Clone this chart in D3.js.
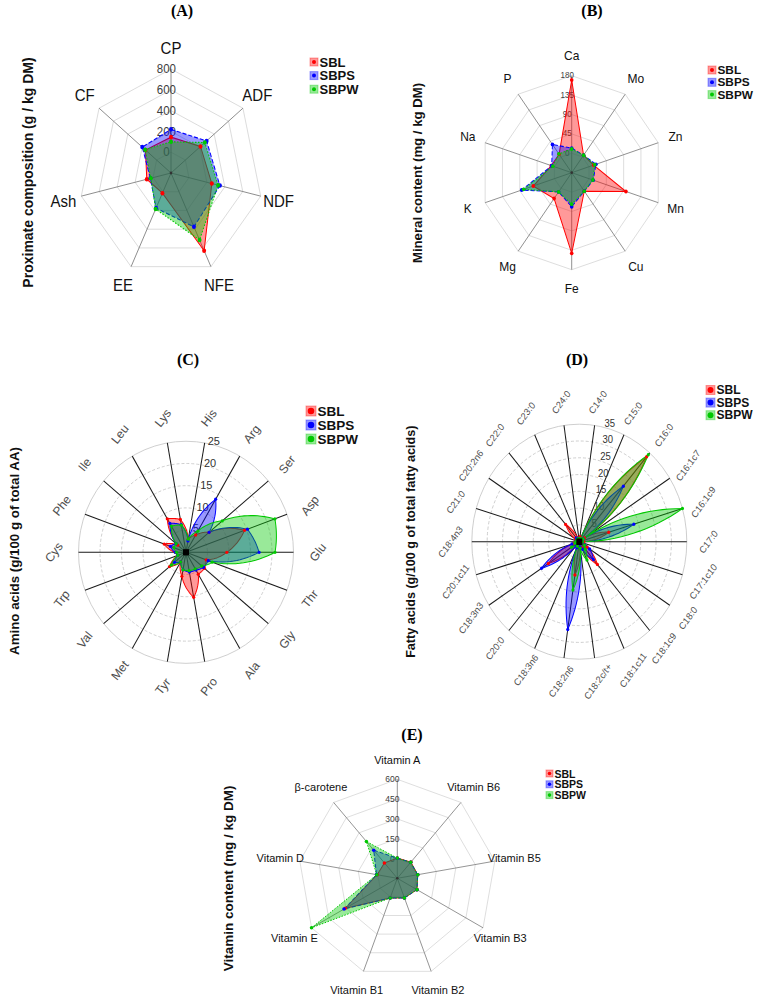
<!DOCTYPE html>
<html><head><meta charset="utf-8">
<script src="https://cdn.jsdelivr.net/npm/d3@7"></script>
<style>body{margin:0;background:#fff}svg{display:block;font-family:"Liberation Sans",Arial,sans-serif}</style>
</head><body><svg id="c" width="767" height="997"></svg>
<script>
// ---------------- data ----------------
const seriesNames = ["SBL","SBPS","SBPW"];

const proxCats  = ["CP","ADF","NDF","NFE","EE","Ash","CF"];
const proxSBL   = [145,210,255,630,15,70,155];
const proxSBPS  = [220,295,345,375,175,30,200];
const proxSBPW  = [100,270,325,515,185,25,160];
const proxTicks = [0,200,400,600,800];

const minCats  = ["Ca","Mo","Zn","Mn","Cu","Fe","Mg","K","Na","P"];
const minSBL   = [170,5,12,96,8,142,29,55,8,8];
const minSBPS  = [12,5,18,11,8,34,10,85,7,36];
const minSBPW  = [10,5,15,10,8,28,10,80,4,9];
const minTicks = [0,45,90,135,180];

const aaCats  = ["His","Arg","Ser","Asp","Glu","Thr","Gly","Ala","Pro","Tyr","Met","Val","Trp","Cys","Phe","Ile","Leu","Lys"];
const aaSBL   = [3,4.5,7,14.5,9.5,5,5.6,5.7,10.3,5.5,2.5,5,2,2.5,5.4,2.5,8.7,7.5];
const aaSBPS  = [2.6,13.8,7,15.2,17,5.5,5.3,4.6,4.5,4,2.5,3.5,2,2.5,3.9,3,7.5,6.3];
const aaSBPW  = [3,5.5,11,22,20.7,6.5,4.8,4.3,4.2,4,2.5,4.5,2,2.2,3,3,6.8,6.2];
const aaTicks = [5,10,15,20,25];

const faCats  = ["C14:0","C15:0","C16:0","C16:1c7","C16:1c9","C17:0","C17:1c10","C18:0","C18:1c9","C18:1c11","C18:2c/t+","C18:2n6","C18:3n6","C20:0","C18:3n3","C20:1c11","C18:4n3","C21:0","C20:2n6","C22:0","C23:0","C24:0"];
const faSBL   = [1.5,1,33.5,2,10,1.5,1,3,9,2,1.5,10,1.5,1,12,2,1,1,1.5,6.8,1,1];
const faSBPS  = [1,0.8,21.9,1.5,18.5,1,1,4,7,2.5,1.5,26.4,2,1.5,14.6,2.5,1,1,1,1.5,0.8,0.8];
const faSBPW  = [1,1,34.3,1.5,35,1,0.8,2,3,6,2,14.5,1.5,1,3,1.5,1,0.5,0.8,1,0.8,0.8];
const faTicks = [5,10,15,20,25,30,35];

const vitCats  = ["Vitamin A","Vitamin B6","Vitamin B5","Vitamin B3","Vitamin B2","Vitamin B1","Vitamin E","Vitamin D","β-carotene"];
const vitSBL   = [3,10,7,22,8,9,305,5,2];
const vitSBPS  = [2,8,7,22,8,9,316,10,128];
const vitSBPW  = [3,8,7,22,8,9,600,8,214];
const vitTicks = [0,150,300,450,600];

// ---------------- style ----------------
const colors = ["#ff0000","#0000ff","#00c800"];
const fills  = ["rgba(255,0,0,0.4)","rgba(0,0,255,0.4)","rgba(0,200,0,0.4)"];
const dashes = [null,"4,2","1.5,1.5"];

const svg = d3.select("#c");

function fmsbRadar(o){
  const g = svg.append("g").attr("transform",`translate(${o.cx},${o.cy}) scale(1,${o.ky})`);
  const n = o.cats.length, idx = d3.range(n);
  const ang = d3.scaleLinear().domain([0,n]).range([0,2*Math.PI]);
  const rad = d3.scaleLinear().domain(d3.extent(o.ticks)).range([o.R*0.2,o.R]);
  const xy = (i,r)=>[r*Math.sin(ang(i)), -r*Math.cos(ang(i))];
  const line = d3.line().curve(d3.curveLinearClosed);
  g.selectAll(null).data(o.ticks).join("path")
    .attr("d",t=>line(idx.map(i=>xy(i,rad(t))))).attr("fill","none")
    .attr("stroke","#d6d6d6").attr("stroke-width",0.8);
  g.selectAll(null).data(idx).join("line")
    .attr("x1",0).attr("y1",0).attr("x2",i=>xy(i,o.R)[0]).attr("y2",i=>xy(i,o.R)[1])
    .attr("stroke","#7a7a7a").attr("stroke-width",0.8);
  g.selectAll(null).data(o.ticks).join("text")
    .attr("x",-0.05*o.R).attr("y",t=>-rad(t)).attr("text-anchor","middle")
    .attr("dominant-baseline","central").attr("font-size",o.tickSize).attr("fill","#404040").text(t=>t);
  o.series.forEach((vals,k)=>{
    g.append("path").attr("d",line(idx.map(i=>xy(i,rad(vals[i])))))
      .attr("fill",fills[k]).attr("stroke",colors[k]).attr("stroke-width",1)
      .attr("stroke-dasharray",dashes[k]);
  });
  o.series.forEach((vals,k)=>{
    g.selectAll(null).data(idx).join("circle")
      .attr("cx",i=>xy(i,rad(vals[i]))[0]).attr("cy",i=>xy(i,rad(vals[i]))[1])
      .attr("r",o.pr).attr("fill",colors[k]);
  });
  g.append("circle").attr("r",1.3).attr("fill","#333");
  g.selectAll(null).data(idx).join("text")
    .attr("x",i=>xy(i,o.R*1.2)[0]).attr("y",i=>xy(i,o.R*1.2)[1])
    .attr("text-anchor","middle").attr("dominant-baseline","central")
    .attr("font-size",o.labSize).attr("fill","#111").text(i=>o.cats[i]);
}

function polarChart(o){
  const g = svg.append("g").attr("transform",`translate(${o.cx},${o.cy}) scale(1,${o.ky})`);
  const n = o.cats.length, step = 2*Math.PI/n, idx = d3.range(n);
  const ang = i=>step*(i+0.5);
  const r = d3.scaleLinear().domain([0,o.max]).range([0,o.R]);
  g.selectAll(null).data(o.ticks).join("circle").attr("r",t=>r(t)).attr("fill","none")
    .attr("stroke","#c4c4c4").attr("stroke-width",0.8)
    .attr("stroke-dasharray",(t,i)=>i===o.ticks.length-1?null:"3,2");
  g.selectAll(null).data(idx).join("line")
    .attr("x1",0).attr("y1",0)
    .attr("x2",i=>o.R*Math.sin(ang(i))).attr("y2",i=>-o.R*Math.cos(ang(i)))
    .attr("stroke","#1a1a1a").attr("stroke-width",1);
  g.selectAll(null).data(o.ticks).join("text")
    .attr("x",t=>r(t)*Math.sin(ang(0))+o.tickDx).attr("y",t=>-r(t)*Math.cos(ang(0))-2)
    .attr("dominant-baseline","central").attr("font-size",o.tickSize).attr("fill","#333").text(t=>t);
  const lr = d3.lineRadial().angle(d=>d[0]).radius(d=>d[1]).curve(d3.curveLinearClosed);
  const dens = vals=>{
    const pts=[];
    for(let i=0;i<n;i++){
      const a0=ang(i), r0=r(vals[i]), r1=r(vals[(i+1)%n]);
      for(let s=0;s<16;s++){const t=s/16; pts.push([a0+step*t, r0+(r1-r0)*t]);}
    }
    return pts;
  };
  o.series.forEach((vals,k)=>{
    g.append("path").attr("d",lr(dens(vals))).attr("fill",fills[k])
      .attr("stroke",colors[k]).attr("stroke-width",1);
  });
  o.series.forEach((vals,k)=>{
    g.selectAll(null).data(idx).join("circle")
      .attr("cx",i=>r(vals[i])*Math.sin(ang(i))).attr("cy",i=>-r(vals[i])*Math.cos(ang(i)))
      .attr("r",1.6).attr("fill",colors[k]);
  });
  g.append("rect").attr("x",-3).attr("y",-3).attr("width",6).attr("height",6).attr("fill","#000");
  g.selectAll(null).data(idx).join("text")
    .attr("transform",i=>`translate(${o.labR*Math.sin(ang(i))},${-o.labR*Math.cos(ang(i))}) rotate(-52)`)
    .attr("text-anchor","middle").attr("dominant-baseline","central")
    .attr("font-size",o.labSize).attr("fill","#4d4d4d").text(i=>o.cats[i]);
}

function legend(o){
  seriesNames.forEach((nm,k)=>{
    const y = o.y + k*o.dy;
    svg.append("rect").attr("x",o.x).attr("y",y-o.box/2).attr("width",o.box).attr("height",o.box)
      .attr("fill",fills[k]).attr("stroke",colors[k]).attr("stroke-opacity",0.35);
    svg.append("circle").attr("cx",o.x+o.box/2).attr("cy",y).attr("r",o.dot).attr("fill",colors[k]);
    svg.append("text").attr("x",o.x+o.box+1.5).attr("y",y).attr("dominant-baseline","central")
      .attr("font-weight","bold").attr("font-size",o.fs).attr("fill","#111").text(nm);
  });
}
function title(t,x,y){
  svg.append("text").attr("x",x).attr("y",y).attr("text-anchor","middle").attr("dominant-baseline","central")
    .attr("font-family","'Liberation Serif','Times New Roman',serif").attr("font-weight","bold")
    .attr("font-size",16).text(t);
}
function ylab(t,x,y,fs){
  svg.append("text").attr("transform",`translate(${x},${y}) rotate(-90)`).attr("text-anchor","middle")
    .attr("dominant-baseline","central").attr("font-weight","bold").attr("font-size",fs).attr("fill","#111").text(t);
}

// ---------------- panels ----------------
title("(A)",182,10); title("(B)",592,10); title("(C)",188,359); title("(D)",577,359); title("(E)",412,734);
ylab("Proximate composition (g / kg DM)",27.5,172.5,14);
ylab("Mineral content (mg / kg DM)",417.5,173,13.2);
ylab("Amino acids (g/100 g of total AA)",14.5,551,13.3);
ylab("Fatty acids (g/100 g of total fatty acids)",411,541.7,12.6);
ylab("Vitamin content (mg / kg DM)",228.5,878.4,13.5);

fmsbRadar({cx:171,cy:173,R:92,ky:1.13,cats:proxCats,ticks:proxTicks,series:[proxSBL,proxSBPS,proxSBPW],tickSize:11.5,labSize:15,pr:2});
fmsbRadar({cx:571.7,cy:172.7,R:91,ky:1.066,cats:minCats,ticks:minTicks,series:[minSBL,minSBPS,minSBPW],tickSize:8,labSize:12,pr:1.8});
fmsbRadar({cx:397.3,cy:878.3,R:99,ky:1,cats:vitCats,ticks:vitTicks,series:[vitSBL,vitSBPS,vitSBPW],tickSize:8.5,labSize:11,pr:1.8});
polarChart({cx:186,cy:552.3,R:107.5,ky:1.033,max:25,cats:aaCats,ticks:aaTicks,series:[aaSBL,aaSBPS,aaSBPW],labR:132,labSize:12,tickSize:11,tickDx:3});
polarChart({cx:579.3,cy:541.7,R:107.5,ky:1.093,max:35,cats:faCats,ticks:faTicks,series:[faSBL,faSBPS,faSBPW],labR:129,labSize:9,tickSize:9.5,tickDx:10});

legend({x:310,y:62,dy:13.6,box:8,dot:2,fs:13});
legend({x:708,y:70,dy:12.3,box:8,dot:2,fs:11.8});
legend({x:306,y:411,dy:14,box:10,dot:3.3,fs:13.5});
legend({x:706,y:390,dy:12.6,box:9,dot:3,fs:12});
legend({x:546,y:773.5,dy:10.8,box:7,dot:1.8,fs:10.5});
</script></body></html>
